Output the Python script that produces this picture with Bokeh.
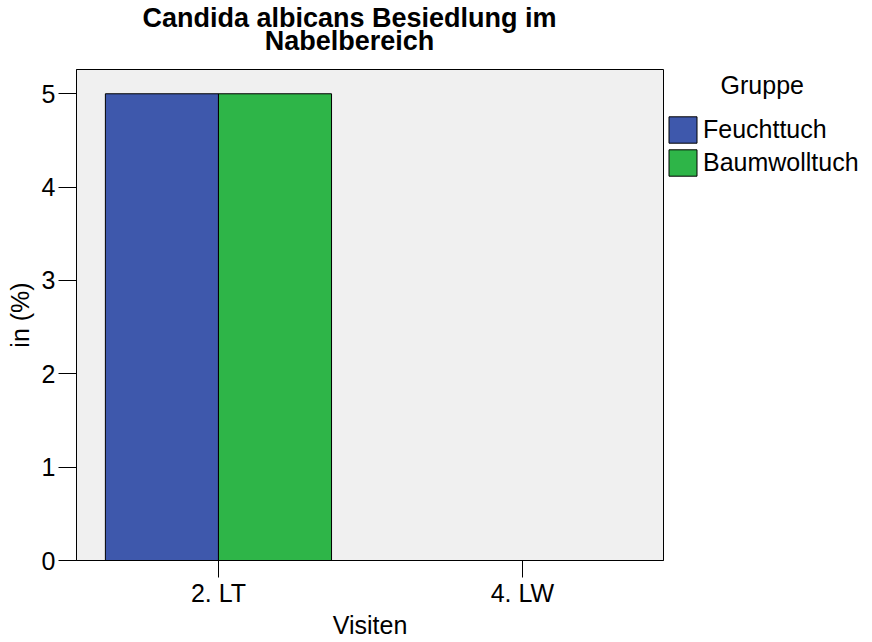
from bokeh.plotting import figure
from bokeh.models import (Range1d, FixedTicker, Legend, LegendItem, ColumnDataSource, Title)
from bokeh.embed import file_html
from bokeh.resources import INLINE

title_lines = ["Candida albicans Besiedlung im", "Nabelbereich"]
legend_title = "Gruppe"
visits = ["2. LT", "4. LW"]
groups = ["Feuchttuch", "Baumwolltuch"]
feuchttuch = [5, 0]
baumwolltuch = [5, 0]
colors = ["#3E58AC", "#2EB548"]
y_ticks = [0, 1, 2, 3, 4, 5]

FONT = "Liberation Sans"
FS = "25px"
TFS = 27

# Arial/Liberation Sans Bold advance widths (em/1000) for centring the title lines
_BW = {"C": 722, "a": 556, "n": 611, "d": 611, "i": 278, " ": 278, "l": 278, "b": 611,
       "c": 556, "s": 556, "B": 722, "e": 556, "u": 611, "g": 611, "m": 889, "N": 722,
       "r": 389, "h": 611}


def text_w(s, size):
    return sum(_BW.get(ch, 600) for ch in s) / 1000 * size


xpos = [i + 1 for i in range(len(visits))]
bw = 0.372

p = figure(frame_width=587, frame_height=491, output_backend="svg", toolbar_location=None,
           x_range=Range1d(0.533, 2.464), y_range=Range1d(0, 5.26),
           min_border_left=76, min_border_right=5, min_border_top=69, min_border_bottom=10)

p.background_fill_color = "#F0F0F0"
p.border_fill_color = "white"
p.outline_line_color = "black"
p.outline_line_width = 1
p.xgrid.visible = False
p.ygrid.visible = False

src = ColumnDataSource(dict(
    x1=[x - bw / 2 for x in xpos], x2=[x + bw / 2 for x in xpos],
    f=feuchttuch, b=baumwolltuch))
r1 = p.vbar(x="x1", top="f", bottom=0, width=bw, source=src,
            fill_color=colors[0], line_color="black", line_width=1)
r2 = p.vbar(x="x2", top="b", bottom=0, width=bw, source=src,
            fill_color=colors[1], line_color="black", line_width=1)

# two title lines, each centred about x = 349 px (frame starts at 76 px)
centre = 349 - 76
for line, st in ((title_lines[1], 27), (title_lines[0], -45)):
    p.add_layout(Title(text=line, align="left", offset=centre - text_w(line, TFS) / 2,
                       text_font=FONT, text_font_size=f"{TFS}px", text_font_style="bold",
                       text_color="black", standoff=st), "above")

# x axis
xa = p.xaxis[0]
xa.ticker = FixedTicker(ticks=xpos)
xa.major_label_overrides = {x: v for x, v in zip(xpos, visits)}
xa.minor_tick_line_color = None
xa.major_tick_in = 0
xa.major_tick_out = 17
xa.major_label_standoff = 1
xa.major_label_text_font = FONT
xa.major_label_text_font_size = FS
xa.major_label_text_color = "black"
xa.axis_label = "Visiten"
xa.axis_label_text_font = FONT
xa.axis_label_text_font_size = FS
xa.axis_label_text_font_style = "normal"
xa.axis_label_text_color = "black"
xa.axis_label_standoff = 1
xa.axis_line_color = "black"

ya = p.yaxis[0]
ya.ticker = FixedTicker(ticks=y_ticks)
ya.minor_tick_line_color = None
ya.major_tick_in = 0
ya.major_tick_out = 18
ya.major_label_standoff = 3
ya.major_label_text_font = FONT
ya.major_label_text_font_size = FS
ya.major_label_text_color = "black"
ya.axis_label = "in (%)"
ya.axis_label_text_font = FONT
ya.axis_label_text_font_size = FS
ya.axis_label_text_font_style = "normal"
ya.axis_label_text_color = "black"
ya.axis_label_standoff = 5
ya.axis_line_color = "black"

legend = Legend(items=[LegendItem(label=groups[0], renderers=[r1]),
                       LegendItem(label=groups[1], renderers=[r2])],
                location="top_left")
legend.title = "\u00a0" * 8 + legend_title
legend.title_text_font = FONT
legend.title_text_font_size = FS
legend.title_text_font_style = "normal"
legend.title_text_color = "black"
legend.title_standoff = 13
legend.label_text_font = FONT
legend.label_text_font_size = FS
legend.label_text_color = "black"
legend.glyph_width = 35
legend.glyph_height = 33
legend.label_height = 33
legend.label_standoff = 3
legend.spacing = 0
legend.padding = 0
legend.margin = 2
legend.border_line_color = None
legend.background_fill_alpha = 0
p.add_layout(legend, "right")

open("out.html", "w").write(file_html(p, INLINE))
